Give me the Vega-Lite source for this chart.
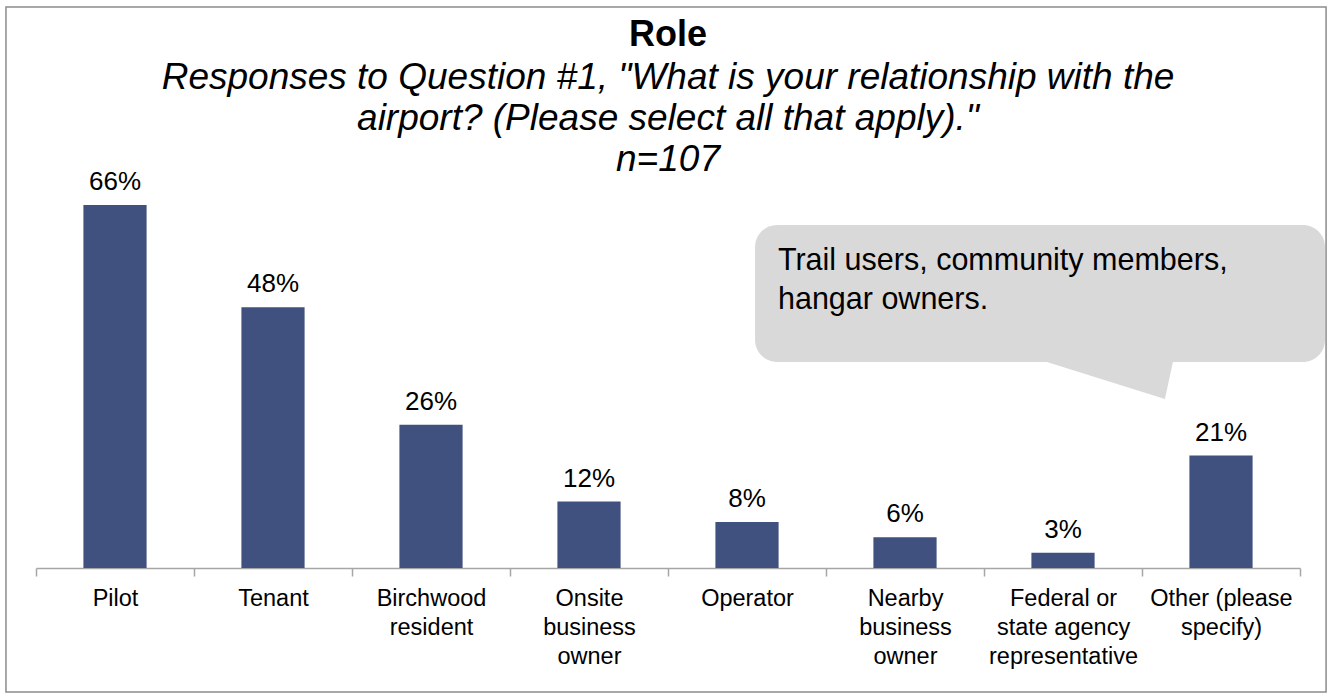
{
  "$schema": "https://vega.github.io/schema/vega-lite/v6.json",
  "width": 1264,
  "height": 383,
  "autosize": "none",
  "padding": {"left": 36, "top": 185, "right": 28, "bottom": 128},
  "background": "white",
  "config": {"view": {"stroke": null}, "font": "Liberation Sans"},
  "title": {
    "text": "Role",
    "subtitle": ["Responses to Question #1, \"What is your relationship with the", "airport? (Please select all that apply).\"", "n=107"],
    "font": "Liberation Sans",
    "fontSize": 36,
    "fontWeight": "bold",
    "color": "#000000",
    "subtitleFont": "Liberation Sans",
    "subtitleFontSize": 37,
    "subtitleFontStyle": "italic",
    "subtitleColor": "#000000",
    "subtitleLineHeight": 41,
    "subtitlePadding": 6,
    "anchor": "middle",
    "offset": -173
  },
  "resolve": {"scale": {"x": "independent"}},
  "layer": [
    {
      "data": {"values": [{}]},
      "mark": {"type": "rect", "filled": false, "stroke": "#8c8c8c", "strokeWidth": 1.5},
      "encoding": {
        "x": {"datum": -0.19, "type": "quantitative", "scale": {"domain": [0, 8], "nice": false, "zero": false}, "axis": null},
        "x2": {"datum": 8.165},
        "y": {"datum": 1.0253, "type": "quantitative", "scale": {"domain": [0, 0.7], "nice": false, "zero": false}, "axis": null},
        "y2": {"datum": -0.2266}
      }
    },
    {
      "data": {"values": [{}]},
      "mark": {"type": "rect", "color": "#D9D9D9", "cornerRadius": 22},
      "encoding": {
        "x": {"datum": 4.551, "type": "quantitative", "scale": {"domain": [0, 8], "nice": false, "zero": false}, "axis": null},
        "x2": {"datum": 8.158},
        "y": {"datum": 0.6269, "type": "quantitative", "scale": {"domain": [0, 0.7], "nice": false, "zero": false}, "axis": null},
        "y2": {"datum": 0.3765}
      }
    },
    {
      "data": {"values": [{}]},
      "mark": {"type": "point", "shape": "M-1,-0.45L1,-0.45L1,-0.294L0.873,0.294L-1,-0.294Z", "filled": true, "color": "#D9D9D9", "opacity": 1, "size": 15876, "strokeWidth": 0},
      "encoding": {
        "x": {"datum": 6.797, "type": "quantitative", "scale": {"domain": [0, 8], "nice": false, "zero": false}, "axis": null},
        "y": {"datum": 0.3428, "type": "quantitative", "scale": {"domain": [0, 0.7], "nice": false, "zero": false}, "axis": null}
      }
    },
    {
      "data": {"values": [{"note": ["Trail users, community members,", "hangar owners."]}]},
      "mark": {"type": "text", "align": "left", "baseline": "alphabetic", "fontSize": 30.5, "lineHeight": 39, "color": "#000000", "font": "Liberation Sans"},
      "encoding": {
        "x": {"datum": 4.696, "type": "quantitative", "scale": {"domain": [0, 8], "nice": false, "zero": false}, "axis": null},
        "y": {"datum": 0.5447, "type": "quantitative", "scale": {"domain": [0, 0.7], "nice": false, "zero": false}, "axis": null},
        "text": {"field": "note"}
      }
    },
    {
      "data": {
        "values": [
          {"Role": "Pilot", "pct": 0.6636},
          {"Role": "Tenant", "pct": 0.4766},
          {"Role": "Birchwood resident", "pct": 0.2617},
          {"Role": "Onsite business owner", "pct": 0.1215},
          {"Role": "Operator", "pct": 0.0841},
          {"Role": "Nearby business owner", "pct": 0.0561},
          {"Role": "Federal or state agency representative", "pct": 0.028},
          {"Role": "Other (please specify)", "pct": 0.2056}
        ]
      },
      "encoding": {
        "x": {
          "field": "Role",
          "type": "nominal",
          "sort": null,
          "scale": {"paddingInner": 0, "paddingOuter": 0},
          "axis": {
            "title": null,
            "labelAngle": 0,
            "tickBand": "extent",
            "domainColor": "#A6A6A6",
            "domainWidth": 1.5,
            "tickColor": "#A6A6A6",
            "tickWidth": 1.5,
            "tickSize": 8,
            "labelFont": "Liberation Sans",
            "labelFontSize": 23.5,
            "labelColor": "#000000",
            "labelLineHeight": 29,
            "labelPadding": 10,
            "labelLimit": 0,
            "labelOverlap": false,
            "labelExpr": "datum.value == 'Birchwood resident' ? ['Birchwood', 'resident'] : datum.value == 'Onsite business owner' ? ['Onsite', 'business', 'owner'] : datum.value == 'Nearby business owner' ? ['Nearby', 'business', 'owner'] : datum.value == 'Federal or state agency representative' ? ['Federal or', 'state agency', 'representative'] : datum.value == 'Other (please specify)' ? ['Other (please', 'specify)'] : datum.label"
          }
        },
        "y": {"field": "pct", "type": "quantitative", "scale": {"domain": [0, 0.7], "nice": false, "zero": false}, "axis": null}
      },
      "layer": [
        {"mark": {"type": "bar", "color": "#41517F", "width": {"band": 0.4}}},
        {
          "mark": {"type": "text", "baseline": "alphabetic", "dy": -15, "fontSize": 26, "color": "#000000", "font": "Liberation Sans"},
          "encoding": {"text": {"field": "pct", "type": "quantitative", "format": ".0%"}}
        }
      ]
    }
  ]
}
